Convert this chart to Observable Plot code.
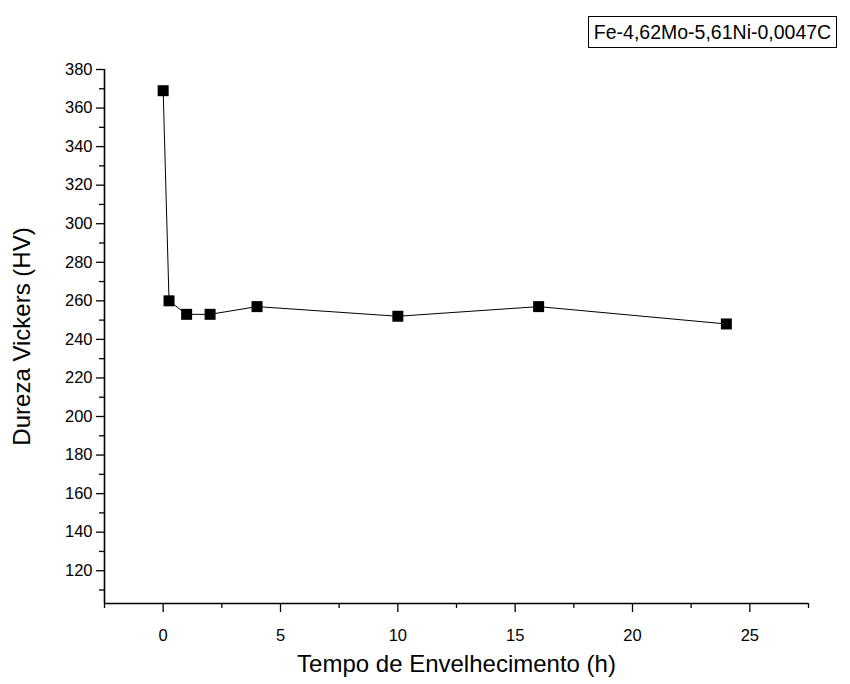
<!DOCTYPE html>
<html>
<head>
<meta charset="utf-8">
<script src="https://cdn.jsdelivr.net/npm/d3@7"></script>
<script src="https://cdn.jsdelivr.net/npm/@observablehq/plot@0.6"></script>
<style>
  html, body { margin: 0; padding: 0; background: #fff; }
  #wrap { position: relative; width: 850px; height: 684px; font-family: "Liberation Sans", Arial, sans-serif; }
  #legend {
    position: absolute; left: 588px; top: 16px; width: 249px; height: 32px;
    border: 1px solid #000; box-sizing: border-box;
    font-size: 19.5px; line-height: 30px; text-align: center; color: #000;
    background: #fff;
  }
</style>
</head>
<body>
<div id="wrap"><div id="legend">Fe-4,62Mo-5,61Ni-0,0047C</div></div>
<script>
const times = [0, 0.25, 1, 2, 4, 10, 16, 24];
const hardness = [369, 260, 253, 253, 257, 252, 257, 248];
const xTicks = [0, 5, 10, 15, 20, 25];
const xMinorTicks = [-2.5, 2.5, 7.5, 12.5, 17.5, 22.5, 27.5];
const yTicks = [120, 140, 160, 180, 200, 220, 240, 260, 280, 300, 320, 340, 360, 380];
const yMinorTicks = [110, 130, 150, 170, 190, 210, 230, 250, 270, 290, 310, 330, 350, 370];
const xTitle = "Tempo de Envelhecimento (h)";
const yTitle = "Dureza Vickers (HV)";

const data = times.map((t, i) => ({t, h: hardness[i]}));

const chart = Plot.plot({
  width: 850,
  height: 684,
  marginLeft: 104,
  marginRight: 42,
  marginTop: 69,
  marginBottom: 81,
  style: {fontFamily: "'Liberation Sans', Arial, sans-serif", fontSize: "16px", color: "#000", background: "transparent"},
  x: {domain: [-2.5, 27.5]},
  y: {domain: [103, 380]},
  marks: [
    Plot.axisX(xTicks, {tickSize: 9, tickPadding: 17, fontSize: 16.5, label: null, strokeWidth: 1.3}),
    Plot.axisX(xMinorTicks, {tickSize: 5, tickFormat: () => "", label: null, strokeWidth: 1.3}),
    Plot.axisY(yTicks, {tickSize: 8, tickPadding: 4, fontSize: 16.5, label: null, strokeWidth: 1.3}),
    Plot.axisY(yMinorTicks, {tickSize: 5, tickFormat: () => "", label: null, strokeWidth: 1.3}),
    Plot.ruleY([103], {stroke: "#000", strokeWidth: 1.6}),
    Plot.ruleX([-2.5], {stroke: "#000", strokeWidth: 1.6}),
    Plot.line(data, {x: "t", y: "h", stroke: "#000", strokeWidth: 1}),
    Plot.dot(data, {x: "t", y: "h", symbol: "square", r: 6.2, fill: "#000", stroke: "none"}),
    Plot.text([xTitle], {frameAnchor: "bottom", dy: 68, fontSize: 24, fill: "#000", textAnchor: "middle"}),
    Plot.text([yTitle], {frameAnchor: "left", dx: -82, rotate: -90, fontSize: 24, fill: "#000", textAnchor: "middle"})
  ]
});
chart.style.position = "absolute";
chart.style.left = "0px";
chart.style.top = "0px";
document.getElementById("wrap").prepend(chart);
</script>
</body>
</html>
